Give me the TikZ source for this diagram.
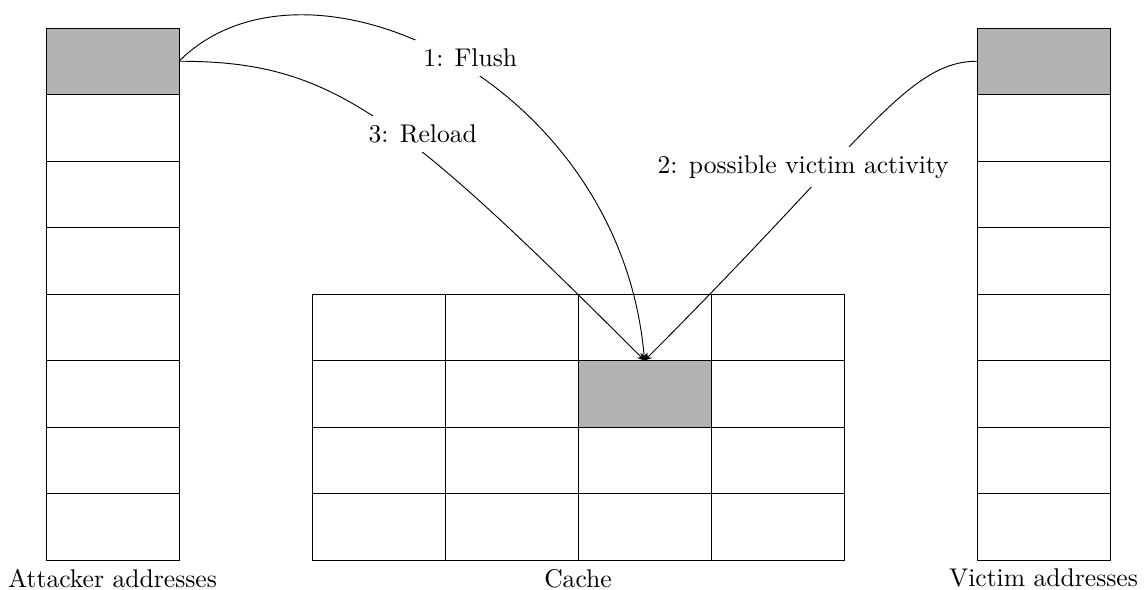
\documentclass[tikz,border=0pt,11pt]{standalone}
\usetikzlibrary{positioning, arrows}
\tikzset{
    cell/.style={draw, minimum width=2cm, minimum height=1cm, inner sep=0pt, outer sep=0pt}, % one line of the cache or of an address range
    steplabel/.style={fill=white}, % the labels cut through the curves
    >=stealth, % small filled arrow heads
}
\begin{document}
\begin{tikzpicture}
    \useasboundingbox (-0.692,-0.451) rectangle (16.526,8.421);
    % attacker and victim addresses, top line is the shared one
    \foreach \i in {1,...,8} {
        \ifnum\i=1 \def\shade{gray!60}\else\def\shade{white}\fi
        \node[cell, fill=\shade] (a\i) at (1,8.5-\i) {};
        \node[cell, fill=\shade] (v\i) at (15,8.5-\i) {};
    }
    % cache, 4 by 4
    \foreach \r in {1,...,4}
        \foreach \c in {1,...,4} {
            \ifnum\r\c=23 \def\shade{gray!60}\else\def\shade{white}\fi
            \node[cell, fill=\shade] (c\r\c) at (2*\c+3,4.5-\r) {};
        }
    \node[below=0pt of a8] (attlbl) {Attacker addresses};
    \node[below=0pt of v8] (viclbl) {Victim addresses};
    \node[below] (cachelbl) at (c42.south east) {Cache};
    \draw (a1.east) edge[->, out=45, in=95, out distance=2.71cm, in distance=4.23cm] node[steplabel, pos=0.5, xshift=0.3cm] {1: Flush} (c23.north)
          (a1.east) edge[->, out=0, in=135, out distance=2.26cm, in distance=5.32cm] node[steplabel, pos=0.56, xshift=0.36cm] {3: Reload} (c23.north)
          (v1.west) edge[->, out=180, in=45, out distance=1.05cm, in distance=4.68cm] node[steplabel, pos=0.62, xshift=-0.4cm] {2: possible victim activity} (c23.north);
\end{tikzpicture}
\end{document}
